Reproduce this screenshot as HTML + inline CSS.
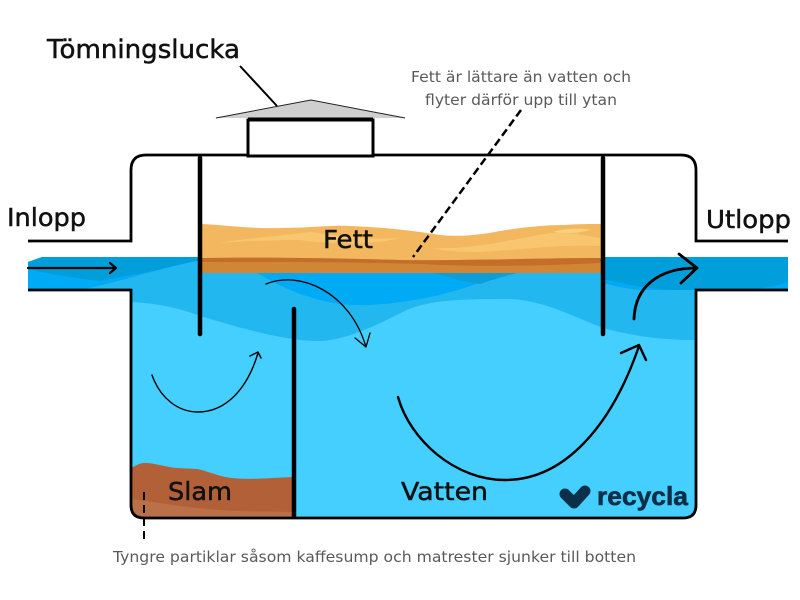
<!DOCTYPE html>
<html><head><meta charset="utf-8"><style>
html,body{margin:0;padding:0;background:#fff}
svg{display:block}
text{font-family:"DejaVu Sans",sans-serif}
</style></head><body>
<svg width="800" height="600" viewBox="0 0 800 600" xmlns="http://www.w3.org/2000/svg">
<rect width="800" height="600" fill="#fff"/>
<!-- body water -->
<path d="M131 257H696V505Q696 518 683 518H144Q131 518 131 505Z" fill="#45cfff"/>
<!-- pipes -->
<path d="M28 262L42 257H202V290H28Z" fill="#00aaf5"/>
<path d="M603 257H788V290H603Z" fill="#00aaf5"/>
<path d="M28 262L42 257H202V262L100 281C75 278 50 274 28 269Z" fill="#009fdc"/>
<path d="M603 257H788V282C770 288 755 290 735 290H680C650 290 625 284 603 279Z" fill="#009fdc"/>
<!-- mid blue -->
<path d="M78 290C115 284 150 270 202 260V257H603V283C615 286 630 290 645 290H696V340C670 340 640 338 603 328C570 315 540 299 507 299C460 299 430 300 407 310C385 320 350 341 317 341C285 341 240 328 200 316C180 308 155 303 131 302V290Z" fill="#22b7ef"/>
<!-- bright patch under fat -->
<path d="M257 273C275 283 300 298 340 304C375 308 430 300 470 286C485 281 500 277 517 273Z" fill="#00aaf5"/>
<path d="M435 273H517C500 277 490 281 480 284C465 282 450 278 435 273Z" fill="#0d9ed8"/>
<!-- fat -->
<path d="M202 224C225 225 250 229 280 228C310 228 330 225 350 226C380 227 410 230 440 235C460 237 480 235 500 231C525 227 545 225 565 225C580 224 590 224 602 224V273H202Z" fill="#f2b75f"/>
<path d="M218 243C250 238 280 236 310 232C340 236 370 240 400 238C370 246 330 244 300 240C270 240 245 241 218 243Z" fill="#f9c670"/>
<path d="M430 248C470 250 510 240 550 233C570 232 590 236 600 238V246C560 244 520 250 480 252C460 252 445 251 430 248Z" fill="#f9c670"/>
<path d="M553 232C565 228 585 228 590 230C580 233 565 234 553 232Z" fill="#fcd07f"/>
<path d="M202 258C260 258 330 258 400 260C460 261 540 258 602 258V273H202Z" fill="#d18636"/>
<path d="M202 258C260 257 330 258 400 260C460 261 540 258 602 258V263C540 266 480 267 420 264C350 262 270 262 202 262Z" fill="#c36f2b"/>
<!-- sludge -->
<path d="M132 468C136 465 140 463 145 463C155 463 165 467 177 468C190 469 197 468 205 471C215 474 222 477 232 478C250 480 270 478 293 477V517H144Q132 517 132 505Z" fill="#b16038"/>
<path d="M132 499C160 503 190 508 220 510C245 512 270 511 293 512V517H144Q132 517 132 505Z" fill="#ba7048"/>
<!-- outline -->
<g fill="none" stroke="#000" stroke-width="3">
<path d="M28 241H131V170Q131 155 146 155H681Q696 155 696 170V241H788" stroke-width="2.8"/>
<path d="M28 290H131V505Q131 518 144 518H683Q696 518 696 505V290H788" stroke-width="2.8"/>
<rect x="248" y="120" width="125" height="36" fill="#fff"/>
</g>
<path d="M214 118L311 100L407 118Z" fill="#cfcfcf"/>
<path d="M216 118L311 100L405 118" fill="none" stroke="#222" stroke-width="1"/>
<path d="M248 119H373" stroke="#000" stroke-width="3"/>
<path d="M240 66L277 106" stroke="#000" stroke-width="2"/>
<!-- baffles -->
<g stroke="#000" stroke-width="4.5" stroke-linecap="round" fill="none">
<path d="M200 158V334"/><path d="M603 158V334"/><path d="M294 309V516"/>
</g>
<!-- arrows -->
<g fill="none" stroke="#000" stroke-linecap="round" stroke-linejoin="round">
<path d="M28 268H116M110 263L116 268L110 273" stroke-width="2.2"/>
<path d="M634 319C635 288 657 268 697 268M679 254L697 268L681 283" stroke-width="2.8"/>
<path d="M398 397C410 440 455 480 505 480C565 480 612 425 639 346M621 353L639 345L646 360" stroke-width="2.4"/>
<path d="M152 375C160 398 178 412 198 412C225 412 247 390 258 353M250 356L258 352L261 358" stroke-width="1.4"/>
<path d="M266 284C300 270 350 292 366 347M355 338L366 347L370 333" stroke-width="1.3"/>
</g>
<path d="M521 110L413 257" stroke="#000" stroke-width="2.5" stroke-dasharray="8 4" fill="none"/>
<path d="M144 492V540" stroke="#000" stroke-width="2" stroke-dasharray="8 5" fill="none"/>
<!-- logo -->
<path d="M565 494L574 503L585 491" fill="none" stroke="#0c2f49" stroke-width="11" stroke-linecap="round" stroke-linejoin="round"/>
<text x="597" y="505" font-size="26" font-weight="700" fill="#0c2f49" textLength="91" lengthAdjust="spacingAndGlyphs" style="font-family:'Liberation Sans',sans-serif" stroke="#0c2f49" stroke-width=".6">recycla</text>
<!-- labels -->
<g fill="#111" stroke="#111" stroke-width=".5">
<text x="47" y="58" font-size="26" textLength="193" lengthAdjust="spacingAndGlyphs">Tömningslucka</text>
<text x="7" y="226" font-size="25" textLength="79" lengthAdjust="spacingAndGlyphs">Inlopp</text>
<text x="706" y="228" font-size="25" textLength="85" lengthAdjust="spacingAndGlyphs">Utlopp</text>
<text x="323" y="248" font-size="25" textLength="50" lengthAdjust="spacingAndGlyphs">Fett</text>
<text x="168" y="500" font-size="25" textLength="64" lengthAdjust="spacingAndGlyphs">Slam</text>
<text x="401" y="500" font-size="25" textLength="87" lengthAdjust="spacingAndGlyphs">Vatten</text>
</g>
<g fill="#5a5a5a">
<text x="411" y="82" font-size="15.5" textLength="220" lengthAdjust="spacingAndGlyphs">Fett är lättare än vatten och</text>
<text x="425" y="105" font-size="15.5" textLength="192" lengthAdjust="spacingAndGlyphs">flyter därför upp till ytan</text>
<text x="113" y="562" font-size="15.5" textLength="523" lengthAdjust="spacingAndGlyphs">Tyngre partiklar såsom kaffesump och matrester sjunker till botten</text>
</g>
</svg>
</body></html>
